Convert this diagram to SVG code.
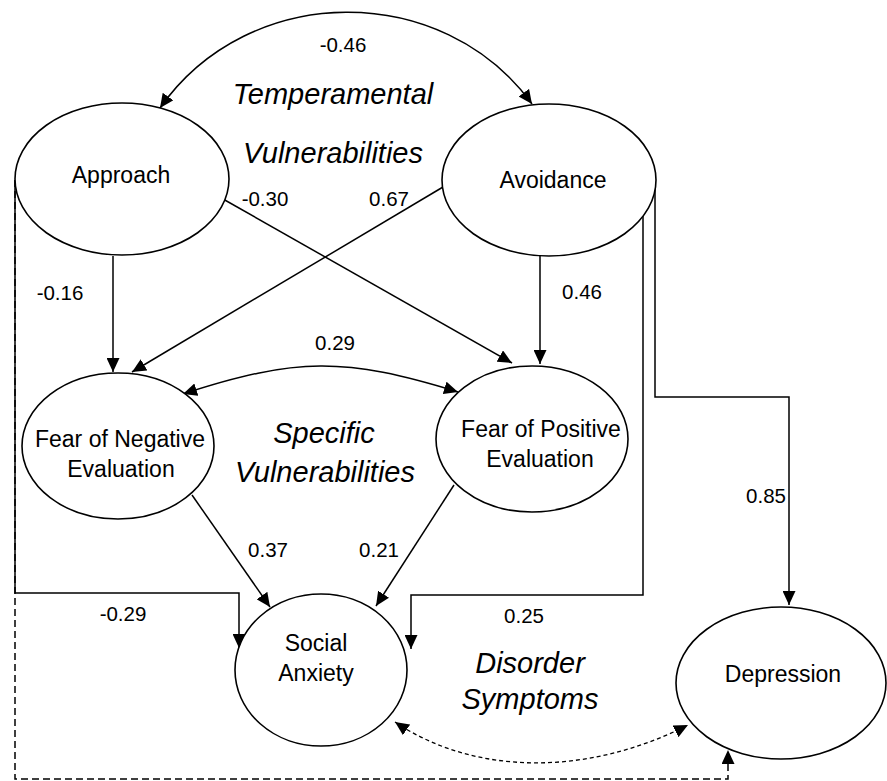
<svg xmlns="http://www.w3.org/2000/svg" width="887" height="781" viewBox="0 0 887 781">
<style>
  .node ellipse { fill: #ffffff; stroke: #000000; stroke-width: 1.6; }
  .lbl { font-family: "Liberation Sans", Arial, sans-serif; font-size: 23px; fill: #000; text-anchor: middle; }
  .num { font-family: "Liberation Sans", Arial, sans-serif; font-size: 20.5px; fill: #000; text-anchor: middle; }
  .grp { font-family: "Liberation Sans", Arial, sans-serif; font-size: 29px; font-style: italic; fill: #000; text-anchor: middle; }
  .edge { fill: none; stroke: #000; stroke-width: 1.5; }
  .arr { marker-end: url(#ah); }
  .bi { marker-end: url(#ah); marker-start: url(#ah); }
  .dash { stroke-dasharray: 7 4; }
  .fine { stroke-dasharray: 4 3; stroke-width: 1.3; }
</style>
<defs>
  <marker id="ah" markerUnits="userSpaceOnUse" markerWidth="15" markerHeight="13" refX="14" refY="6.5" orient="auto-start-reverse">
    <path d="M0,0 L14,6.5 L0,13 z" fill="#000"/>
  </marker>
</defs>
<rect width="887" height="781" fill="#ffffff"/>

<g id="connectors">
  <path class="edge bi" d="M160,108 C249,-19 443,-19 532,104"/>
  <path class="edge arr" d="M113,256 V372"/>
  <path class="edge arr" d="M223,199 L512,363"/>
  <path class="edge arr" d="M443,187 L132,372"/>
  <path class="edge arr" d="M540,255 V364"/>
  <path class="edge bi" d="M183,394 C297,357 344,357 458,392"/>
  <path class="edge arr" d="M192,495 L270,607"/>
  <path class="edge arr" d="M454,485 L376,606"/>
  <path class="edge arr" d="M15,180 V593 H239 V648"/>
  <path class="edge arr" d="M643,216 V595 H411 V649"/>
  <path class="edge arr" d="M655,185 V397 H789 V605"/>
  <path class="edge arr dash" d="M15,180 V779 H728 V750"/>
  <path class="edge bi fine" d="M395,722 C475,776 588,776 688,725"/>
</g>

<g id="node-approach" class="node">
  <ellipse cx="122" cy="179" rx="107" ry="76"/>
  <text class="lbl" x="121" y="183">Approach</text>
</g>
<g id="node-avoidance" class="node">
  <ellipse cx="549" cy="180" rx="107" ry="76"/>
  <text class="lbl" x="553" y="188">Avoidance</text>
</g>
<g id="node-fne" class="node">
  <ellipse cx="118" cy="446" rx="96" ry="73"/>
  <text class="lbl" x="120" y="447">Fear of Negative</text>
  <text class="lbl" x="121" y="477">Evaluation</text>
</g>
<g id="node-fpe" class="node">
  <ellipse cx="532" cy="439" rx="96" ry="73"/>
  <text class="lbl" x="541" y="437">Fear of Positive</text>
  <text class="lbl" x="540" y="467">Evaluation</text>
</g>
<g id="node-social" class="node">
  <ellipse cx="321" cy="670" rx="86" ry="76"/>
  <text class="lbl" x="316" y="651">Social</text>
  <text class="lbl" x="316" y="681">Anxiety</text>
</g>
<g id="node-depression" class="node">
  <ellipse cx="781" cy="683" rx="105" ry="76"/>
  <text class="lbl" x="783" y="682">Depression</text>
</g>

<g id="labels">
  <text class="num" x="343" y="52">-0.46</text>
  <text class="num" x="265" y="206">-0.30</text>
  <text class="num" x="389" y="206">0.67</text>
  <text class="num" x="60" y="300">-0.16</text>
  <text class="num" x="582" y="299">0.46</text>
  <text class="num" x="335" y="350">0.29</text>
  <text class="num" x="766" y="503">0.85</text>
  <text class="num" x="268" y="557">0.37</text>
  <text class="num" x="379" y="557">0.21</text>
  <text class="num" x="123" y="621">-0.29</text>
  <text class="num" x="524" y="623">0.25</text>
  <text class="grp" x="333" y="104">Temperamental</text>
  <text class="grp" x="333" y="163">Vulnerabilities</text>
  <text class="grp" x="324" y="443">Specific</text>
  <text class="grp" x="325" y="482">Vulnerabilities</text>
  <text class="grp" x="530" y="673">Disorder</text>
  <text class="grp" x="530" y="709">Symptoms</text>
</g>
</svg>
